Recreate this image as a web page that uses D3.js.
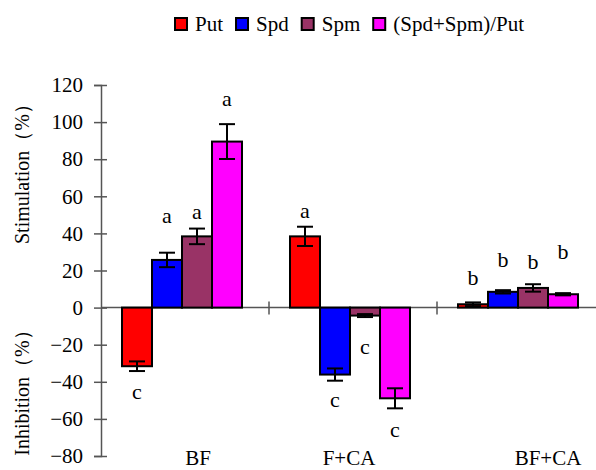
<!DOCTYPE html>
<html>
<head>
<meta charset="utf-8">
<script src="https://cdn.jsdelivr.net/npm/d3@7"></script>
</head>
<body style="margin:0; background:#fff">
<script>
// data
const groups = ['BF', 'F+CA', 'BF+CA'];
const series = ['Put', 'Spd', 'Spm', '(Spd+Spm)/Put'];
const colors = ['#ff0000', '#0000ff', '#993366', '#ff00ff'];
const yTicks = [-80, -60, -40, -20, 0, 20, 40, 60, 80, 100, 120];

// one array per series, in group order
const putValues = [-31.6, 38.4, 1.8];
const spdValues = [25.7, -36.1, 8.5];
const spmValues = [38.4, -4.3, 10.6];
const ratioValues = [89.5, -48.9, 7.2];

const putErrors = [2.6, 5.2, 1.0];
const spdErrors = [3.9, 3.3, 0.9];
const spmErrors = [4.2, 0.8, 2.0];
const ratioErrors = [9.4, 5.4, 0.6];

// significance letters and where they sit (in data units)
const putLetters = ['c', 'a', 'b'];
const spdLetters = ['a', 'c', 'b'];
const spmLetters = ['a', 'c', 'b'];
const ratioLetters = ['a', 'c', 'b'];
const putLetterAt = [-45.7, 51.7, 15.6];
const spdLetterAt = [49.2, -50.2, 25.5];
const spmLetterAt = [51.4, -21.4, 24.4];
const ratioLetterAt = [112, -66.4, 30];

const allValues = [putValues, spdValues, spmValues, ratioValues];
const allErrors = [putErrors, spdErrors, spmErrors, ratioErrors];
const allLetters = [putLetters, spdLetters, spmLetters, ratioLetters];
const allLetterAt = [putLetterAt, spdLetterAt, spmLetterAt, ratioLetterAt];

const rows = [];
groups.forEach((g, gi) => {
    series.forEach((s, si) => {
        rows.push({
            group: g, series: s, color: colors[si],
            value: allValues[si][gi], err: allErrors[si][gi],
            letter: allLetters[si][gi], letterAt: allLetterAt[si][gi]
        });
    });
});

const FONT = '"Liberation Serif"';
const W = 596, H = 470;
const svg = d3.select('body').append('svg')
    .attr('width', W).attr('height', H);

const axisX = 101;
const y = d3.scaleLinear().domain([-80, 120]).range([456, 85]);
const x0 = d3.scaleBand().domain(groups).range([axisX, axisX + 504]);
const x1 = d3.scaleBand().domain(series).range([21, 141]);

const axisColor = '#555';

// y axis
const yAxis = svg.append('g')
    .attr('transform', `translate(${axisX},0)`)
    .call(d3.axisLeft(y).tickValues(yTicks).tickSize(7).tickPadding(11));
yAxis.select('.domain').attr('stroke', axisColor).attr('stroke-width', 1.5);
yAxis.selectAll('.tick line').attr('stroke', axisColor).attr('stroke-width', 1.5).attr('x2', 6).attr('x1', -7);
yAxis.selectAll('.tick text')
    .style('font-family', FONT)
    .style('font-size', '21px')
    .attr('fill', '#000');

// x axis at zero, with group separators
svg.append('line')
    .attr('x1', axisX).attr('x2', W)
    .attr('y1', y(0)).attr('y2', y(0))
    .attr('stroke', axisColor).attr('stroke-width', 1.5);
svg.selectAll('.sep')
    .data(groups.slice(1))
    .join('line')
    .attr('x1', d => x0(d)).attr('x2', d => x0(d))
    .attr('y1', y(0) - 6).attr('y2', y(0) + 7)
    .attr('stroke', axisColor).attr('stroke-width', 1.5);

// bars
svg.append('g').selectAll('rect')
    .data(rows)
    .join('rect')
    .attr('x', d => x0(d.group) + x1(d.series))
    .attr('width', x1.bandwidth())
    .attr('y', d => y(Math.max(0, d.value)))
    .attr('height', d => Math.abs(y(d.value) - y(0)))
    .attr('fill', d => d.color)
    .attr('stroke', '#000')
    .attr('stroke-width', 2);

// error bars
const eb = svg.append('g').selectAll('g')
    .data(rows)
    .join('g')
    .attr('transform', d => `translate(${x0(d.group) + x1(d.series) + x1.bandwidth() / 2},0)`)
    .attr('stroke', '#000').attr('stroke-width', 2);
eb.append('line')
    .attr('y1', d => y(d.value - d.err)).attr('y2', d => y(d.value + d.err));
eb.append('line')
    .attr('x1', -8).attr('x2', 8)
    .attr('y1', d => y(d.value + d.err)).attr('y2', d => y(d.value + d.err));
eb.append('line')
    .attr('x1', -8).attr('x2', 8)
    .attr('y1', d => y(d.value - d.err)).attr('y2', d => y(d.value - d.err));

// significance letters
svg.append('g').selectAll('text')
    .data(rows)
    .join('text')
    .attr('x', d => x0(d.group) + x1(d.series) + x1.bandwidth() / 2)
    .attr('y', d => y(d.letterAt))
    .attr('dy', '0.3em')
    .attr('text-anchor', 'middle')
    .style('font-family', FONT)
    .style('font-size', '22px')
    .text(d => d.letter);

// group labels (the reference has them slightly off centre)
const labelShift = [13, -4, 27];
svg.append('g').selectAll('text')
    .data(groups)
    .join('text')
    .attr('x', (d, i) => x0(d) + x0.bandwidth() / 2 + labelShift[i])
    .attr('y', 465)
    .attr('text-anchor', 'middle')
    .style('font-family', FONT)
    .style('font-size', '21px')
    .text(d => d);

// y axis titles
svg.append('text')
    .attr('transform', 'translate(29,169) rotate(-90)')
    .attr('text-anchor', 'middle')
    .style('font-family', FONT)
    .style('font-size', '20px')
    .text('Stimulation（%）');
svg.append('text')
    .attr('transform', 'translate(29,388) rotate(-90)')
    .attr('text-anchor', 'middle')
    .style('font-family', FONT)
    .style('font-size', '20px')
    .text('Inhibition（%）');

// legend
const legend = svg.append('g');
let lx = 175;
series.forEach((s, i) => {
    legend.append('rect')
        .attr('x', lx).attr('y', 18)
        .attr('width', 12).attr('height', 12)
        .attr('fill', colors[i])
        .attr('stroke', '#000').attr('stroke-width', 2);
    const t = legend.append('text')
        .attr('x', lx + 20).attr('y', 31)
        .style('font-family', FONT)
        .style('font-size', '21px')
        .text(s);
    lx += 20 + t.node().getComputedTextLength() + 13;
});
</script>
</body>
</html>
